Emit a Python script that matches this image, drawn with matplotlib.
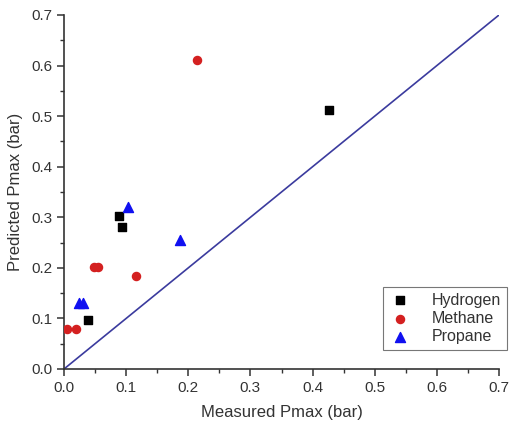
import matplotlib
matplotlib.use("Agg")
import matplotlib.pyplot as plt
from matplotlib.ticker import MultipleLocator, FormatStrFormatter

plt.rcParams['font.family'] = ['Liberation Sans', 'DejaVu Sans']

hyd_x = [0.427, 0.088, 0.093, 0.039]
hyd_y = [0.513, 0.302, 0.280, 0.097]
met_x = [0.2135, 0.005, 0.020, 0.049, 0.054, 0.116]
met_y = [0.612, 0.079, 0.079, 0.201, 0.201, 0.184]
pro_x = [0.1035, 0.187, 0.024, 0.031]
pro_y = [0.320, 0.255, 0.130, 0.130]
line_x = [0.0, 0.7]
line_y = [0.0, 0.7]

fig = plt.figure(figsize=(5.1, 4.24), dpi=100)
ax = fig.add_axes([64/510, 55/424, 435/510, 354/424])
txt = '#333333'
ax.plot(line_x, line_y, color='#3b3b9e', lw=1.2, zorder=1)
ax.scatter(hyd_x, hyd_y, marker='s', s=30, color='black', label='Hydrogen', zorder=3)
ax.scatter(met_x, met_y, marker='o', s=34, color='#d42020', label='Methane', zorder=3)
ax.scatter(pro_x, pro_y, marker='^', s=52, color='#1010f0', label='Propane', zorder=3)

ax.set_xlim(0, 0.7)
ax.set_ylim(0, 0.7)
ax.xaxis.set_major_locator(MultipleLocator(0.1))
ax.yaxis.set_major_locator(MultipleLocator(0.1))
ax.xaxis.set_minor_locator(MultipleLocator(0.05))
ax.yaxis.set_minor_locator(MultipleLocator(0.05))
ax.spines['top'].set_visible(False)
ax.spines['right'].set_visible(False)
for s in ['left', 'bottom']:
    ax.spines[s].set_color('#333333')
    ax.spines[s].set_linewidth(1.2)
ax.tick_params(which='major', direction='out', length=5, width=1.1, colors='#333333', labelsize=11, labelcolor=txt)
ax.tick_params(which='minor', direction='out', length=3, width=1.0, colors='#333333')
ax.xaxis.set_major_formatter(FormatStrFormatter('%.1f'))
ax.yaxis.set_major_formatter(FormatStrFormatter('%.1f'))
ax.set_xlabel('Measured Pmax (bar)', fontsize=12, color=txt, labelpad=7)
ax.set_ylabel('Predicted Pmax (bar)', fontsize=12, color=txt, labelpad=6)

leg = ax.legend(loc='upper left', bbox_to_anchor=(383/510, 1-287/424), bbox_transform=fig.transFigure,
                fontsize=11.5, frameon=True, fancybox=False, handletextpad=1.3, borderpad=0.35,
                labelspacing=0.2, handlelength=1.4, borderaxespad=0.0, labelcolor=txt)
leg.get_frame().set_edgecolor('#555555')
leg.get_frame().set_linewidth(0.8)

fig.savefig('out.png', dpi=100)
